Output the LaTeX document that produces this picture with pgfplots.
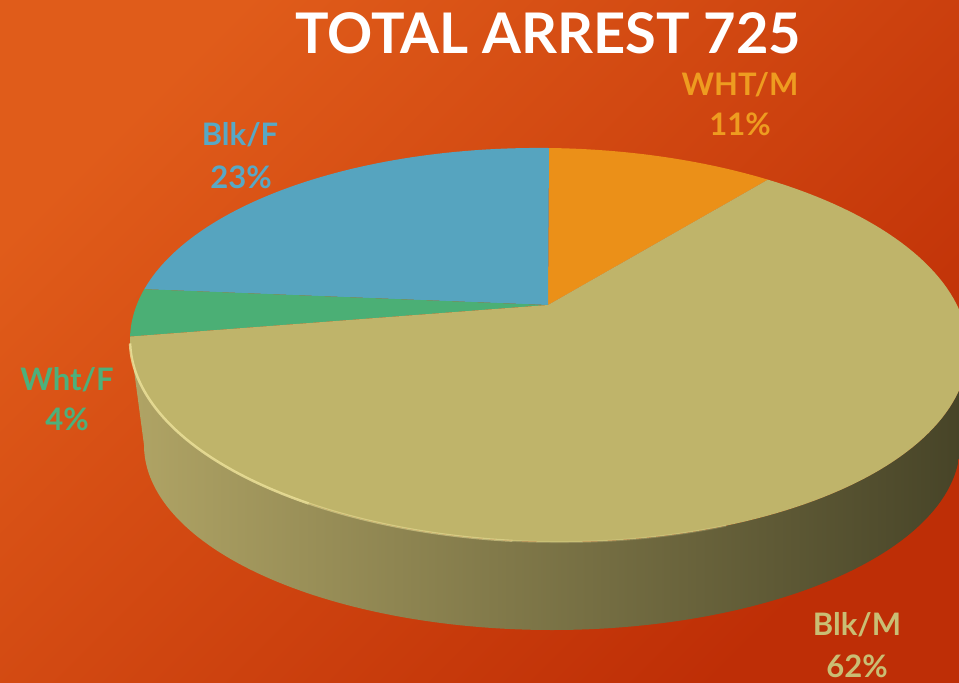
\documentclass[border=0pt]{standalone}
\usepackage{pgfplots}
\pgfplotsset{compat=1.18}
\usepackage{fontspec}
\setmainfont{Lato}
\definecolor{bgA}{HTML}{E05C1A}
\definecolor{bgB}{HTML}{BE2E06}
\definecolor{cWM}{HTML}{EB9018}
\definecolor{cBM}{HTML}{BFB46A}
\definecolor{cWF}{HTML}{4BAF75}
\definecolor{cBF}{HTML}{56A4BF}
\definecolor{tWM}{HTML}{EE9C20}
\definecolor{tBM}{HTML}{C9BE74}
\definecolor{tWF}{HTML}{4DB07B}
\definecolor{tBF}{HTML}{58A8C5}
\definecolor{sideL}{HTML}{B0A465}
\definecolor{sideM}{HTML}{736C43}
\definecolor{sideR}{HTML}{464327}
\definecolor{rim}{HTML}{EEE49C}
\begin{document}
\begin{tikzpicture}
\begin{axis}[
  scale only axis, width=959pt, height=683pt,
  xmin=0, xmax=959, ymin=0, ymax=683, y dir=reverse,
  hide axis, clip=true,
  declare function={
    ex(\t)=549+419*cos(\t);
    ey(\t)=345-197*sin(\t)+5*cos(\t);
    bx(\t)=552+408*cos(\t);
    by(\t)=445-185*sin(\t);
    sx(\t)=(\t<=360) ? ex(\t) : bx(720-\t);
    sy(\t)=(\t<=360) ? ey(\t) : by(720-\t);
  },
]
% background
\addplot[draw=none, top color=bgA, bottom color=bgB, shading angle=45]
  coordinates {(0,0) (959,0) (959,683) (0,683)} -- cycle;
% side of the pie (Blk/M)
\addplot[draw=none, left color=sideL, middle color=sideM, right color=sideR,
  domain=180:540, samples=361] ({sx(x)},{sy(x)}) -- cycle;
% slices: boundary angles
% WHT/M 11%
\addplot[draw=none, fill=cWM, domain=58.5:90, samples=30] ({ex(x)},{ey(x)}) -- (axis cs:548,305) -- cycle;
% Blk/F 23%
\addplot[draw=none, fill=cBF, domain=90:165, samples=60] ({ex(x)},{ey(x)}) -- (axis cs:548,305) -- cycle;
% Wht/F 4%
\addplot[draw=none, fill=cWF, domain=165:179, samples=15] ({ex(x)},{ey(x)}) -- (axis cs:548,305) -- cycle;
% Blk/M 62%
\addplot[draw=none, fill=cBM, domain=179:418.5, samples=150] ({ex(x)},{ey(x)}) -- (axis cs:548,305) -- cycle;
% rim highlight
\addplot[rim, opacity=0.8, line width=2.5pt, domain=181:235, samples=40] ({ex(x)},{ey(x)});
\addplot[rim, opacity=0.5, line width=2.2pt, domain=235:265, samples=30] ({ex(x)},{ey(x)});
\addplot[rim, opacity=0.25, line width=2pt, domain=265:295, samples=30] ({ex(x)},{ey(x)});
% labels
\node[white, font=\bfseries\fontsize{56}{60}\selectfont, anchor=base] at (axis cs:548,53) {TOTAL ARREST 725};
\node[tWM, font=\bfseries\fontsize{31}{34}\selectfont, anchor=base] at (axis cs:740,95) {WHT/M};
\node[tWM, font=\bfseries\fontsize{31}{34}\selectfont, anchor=base] at (axis cs:740,135) {11\%};
\node[tBF, font=\bfseries\fontsize{31}{34}\selectfont, anchor=base] at (axis cs:240,145) {Blk/F};
\node[tBF, font=\bfseries\fontsize{31}{34}\selectfont, anchor=base] at (axis cs:241,188) {23\%};
\node[tWF, font=\bfseries\fontsize{31}{34}\selectfont, anchor=base] at (axis cs:67,390) {Wht/F};
\node[tWF, font=\bfseries\fontsize{31}{34}\selectfont, anchor=base] at (axis cs:67,430) {4\%};
\node[tBM, font=\bfseries\fontsize{31}{34}\selectfont, anchor=base] at (axis cs:857,635) {Blk/M};
\node[tBM, font=\bfseries\fontsize{31}{34}\selectfont, anchor=base] at (axis cs:857,677) {62\%};
\end{axis}
\end{tikzpicture}
\end{document}
